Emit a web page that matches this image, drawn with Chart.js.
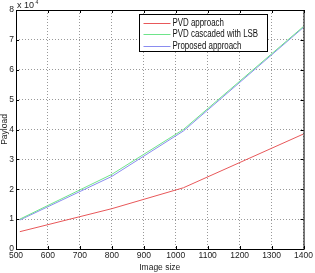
<!DOCTYPE html>
<html>
<head>
<meta charset="utf-8">
<script src="https://cdn.jsdelivr.net/npm/chart.js@4/dist/chart.umd.min.js"></script>
<style>
  html, body { margin: 0; padding: 0; background: #fff; }
  #wrap { width: 315px; height: 273px; }
</style>
</head>
<body>
<div id="wrap"><canvas id="myChart"></canvas></div>
<script>
// payload vs image size, values in units of 10^4
const sizes = [512, 800, 1024, 1400];
const pvd = [0.58, 1.35, 2.05, 3.85];
const pvdLsb = [1.0, 2.5, 4.0, 7.45];
const proposed = [0.97, 2.43, 3.95, 7.42];
const labels = ['PVD approach', 'PVD cascaded with LSB', 'Proposed approach'];
const colors = ['#e8585a', '#6ee48a', '#8a8cf0'];
const xTicks = [500, 600, 700, 800, 900, 1000, 1100, 1200, 1300, 1400];
const yTicks = [0, 1, 2, 3, 4, 5, 6, 7, 8];

const toPoints = (vals) => vals.map((v, i) => ({ x: sizes[i], y: v }));
const FONT = '"Liberation Sans", Arial, sans-serif';

// frame, inward ticks, legend box and exponent label
const extras = {
    id: 'extras',
    afterDraw(chart) {
        const { ctx, chartArea: a, scales } = chart;
        ctx.save();
        ctx.strokeStyle = '#000';
        ctx.lineWidth = 1;
        ctx.strokeRect(a.left + 0.5, a.top + 0.5, a.right - a.left, a.bottom - a.top);
        ctx.beginPath();
        xTicks.forEach(t => {
            const x = Math.round(scales.x.getPixelForValue(t)) + 0.5;
            ctx.moveTo(x, a.bottom); ctx.lineTo(x, a.bottom - 3);
            ctx.moveTo(x, a.top); ctx.lineTo(x, a.top + 3);
        });
        yTicks.forEach(t => {
            const y = Math.round(scales.y.getPixelForValue(t)) + 0.5;
            ctx.moveTo(a.left, y); ctx.lineTo(a.left + 3, y);
            ctx.moveTo(a.right, y); ctx.lineTo(a.right - 3, y);
        });
        ctx.stroke();

        // exponent
        ctx.fillStyle = '#222';
        ctx.font = '9px ' + FONT;
        ctx.textBaseline = 'alphabetic';
        ctx.fillText('x 10', 17, 8);
        ctx.font = '5px ' + FONT;
        ctx.fillText('4', 35.5, 4);

        // legend
        const lx = 139.5, ly = 14.5, lw = 128, lh = 37;
        ctx.fillStyle = '#fff';
        ctx.fillRect(lx, ly, lw, lh);
        ctx.strokeRect(lx, ly, lw, lh);
        ctx.font = '10px ' + FONT;
        ctx.textBaseline = 'middle';
        chart.data.datasets.forEach((ds, i) => {
            const y = ly + 8 + i * 11.5;
            ctx.strokeStyle = ds.borderColor;
            ctx.beginPath();
            ctx.moveTo(lx + 4, Math.round(y) + 0.5);
            ctx.lineTo(lx + 31, Math.round(y) + 0.5);
            ctx.stroke();
            ctx.fillStyle = '#111';
            const w = ctx.measureText(ds.label).width * 0.79;
            ctx.fillText(ds.label, lx + 33, y + 0.5, w);
        });
        ctx.restore();
    }
};

const datasets = [pvd, pvdLsb, proposed].map((vals, i) => ({
    label: labels[i],
    data: toPoints(vals),
    borderColor: colors[i],
    backgroundColor: colors[i],
    borderWidth: 1,
    pointRadius: 0,
    tension: 0
}));

new Chart(document.getElementById('myChart'), {
    type: 'line',
    data: { datasets },
    options: {
        responsive: true,
        maintainAspectRatio: false,
        animation: false,
        layout: { padding: { top: 10, right: 7, left: 0, bottom: 0 } },
        plugins: { legend: { display: false }, tooltip: { enabled: false } },
        scales: {
            x: {
                type: 'linear',
                min: 500, max: 1400,
                afterBuildTicks: (s) => { s.ticks = xTicks.map(v => ({ value: v })); },
                afterFit: (s) => { s.height = 24; },
                grid: { color: '#999', drawTicks: false },
                border: { display: false, dash: [1, 2] },
                ticks: { color: '#222', font: { size: 8.5, family: FONT }, padding: 2, maxRotation: 0, callback: (v) => String(v) },
                title: { display: true, text: 'Image size', color: '#222', font: { size: 8.5, family: FONT }, padding: 0 }
            },
            y: {
                min: 0, max: 8,
                afterBuildTicks: (s) => { s.ticks = yTicks.map(v => ({ value: v })); },
                afterFit: (s) => { s.width = 16; },
                grid: { color: '#999', drawTicks: false },
                border: { display: false, dash: [1, 2] },
                ticks: { color: '#222', font: { size: 8.5, family: FONT }, padding: 2, callback: (v) => String(v) },
                title: { display: true, text: 'Payload', color: '#222', font: { size: 8.5, family: FONT }, padding: 0 }
            }
        }
    },
    plugins: [extras]
});
</script>
</body>
</html>
